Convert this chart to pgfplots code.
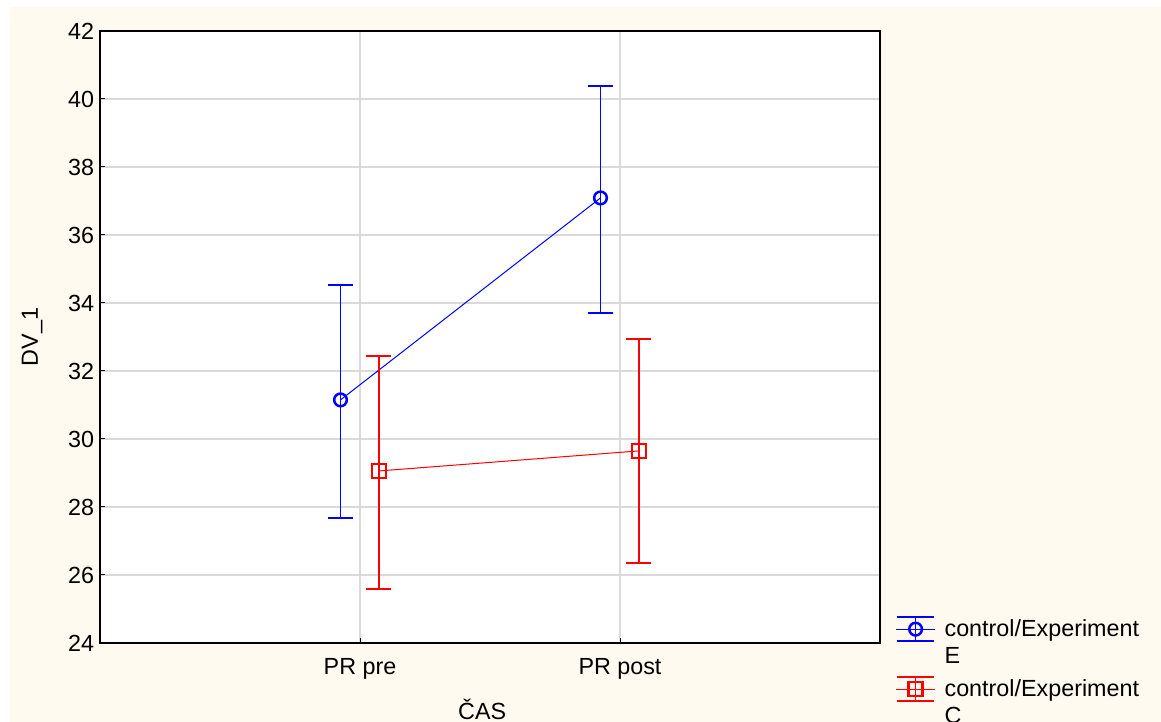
\documentclass[border=0pt]{standalone}
\usepackage{pgfplots}
\pgfplotsset{compat=1.18}
\usepackage{pgfplotstable}
\usepackage{fontspec}
\setmainfont{Liberation Sans}
\definecolor{bg}{RGB}{255,250,240}
\definecolor{gridc}{RGB}{218,218,218}
\definecolor{eblue}{RGB}{0,0,255}
\definecolor{ered}{RGB}{255,0,0}

\pgfplotstableread{
x y ep em
0.925 31.15 3.38 3.47
1.925 37.09 3.29 3.38
}\blueE
\pgfplotstableread{
x y ep em
1.073 29.06 3.38 3.47
2.073 29.65 3.29 3.30
}\redC

\begin{document}
\begin{tikzpicture}
\fill[white] (0,0) rectangle (696.6pt,433.2pt);
\fill[bg] (6pt,0) rectangle (696.6pt,429pt);
\begin{axis}[
  at={(60pt,47.4pt)}, anchor=south west,
  scale only axis, width=468pt, height=367.2pt,
  xmin=0, xmax=3, ymin=24, ymax=42,
  xtick={1,2}, xticklabels={PR pre, PR post},
  ytick={24,26,...,42},
  tick pos=left, tick align=inside, major tick length=3pt,
  every tick/.style={black, line width=0.6pt},
  axis line style={black, line width=0.7pt},
  axis background/.style={fill=white},
  grid=major, major grid style={gridc, line width=0.7pt},
  tick label style={font=\fontsize{14}{16}\selectfont},
  xticklabel style={yshift=-6pt},
  /pgf/number format/assume math mode=true,
  label style={font=\fontsize{14}{16}\selectfont},
  xlabel={ČAS}, ylabel={DV\_1},
  xlabel style={at={(axis description cs:0.49,-0.108)}, anchor=center},
  ylabel style={at={(axis description cs:-0.087,0.5)}, anchor=center},
  legend style={at={(axis description cs:1.02,0.044)}, anchor=north west,
    draw=none, fill=none, inner sep=0pt, row sep=4pt, column sep=3.6pt,
    font=\fontsize{14}{16.2}\selectfont,
    cells={anchor=base west, align=left}},
  legend image code/.code={
    \draw[#1, mark repeat=2, mark phase=2, yshift=20.8pt] plot coordinates {(0pt,0pt) (11.5pt,0pt) (23pt,0pt)};
    \draw[#1, mark=none, line width=0.9pt, yshift=20.8pt] (11.5pt,-7.2pt) -- (11.5pt,7.2pt) (0.5pt,7.2pt) -- (22.5pt,7.2pt) (0.5pt,-7.2pt) -- (22.5pt,-7.2pt);
  },
]
\addplot[eblue, line width=0.6pt, mark=o, mark size=3.8pt,
  mark options={solid, line width=1.5pt},
  error bars/.cd, y dir=both, y explicit,
  error mark options={eblue, line width=0.9pt, mark size=7.5pt, rotate=90},
  error bar style={eblue, line width=0.9pt}]
  table[x=x, y=y, y error plus=ep, y error minus=em] {\blueE};
\addlegendentry{control/Experiment\\E}
\addplot[ered, line width=0.6pt, mark=square, mark size=4.2pt,
  mark options={solid, line width=1.5pt},
  error bars/.cd, y dir=both, y explicit,
  error mark options={ered, line width=0.9pt, mark size=7.5pt, rotate=90},
  error bar style={ered, line width=0.9pt}]
  table[x=x, y=y, y error plus=ep, y error minus=em] {\redC};
\addlegendentry{control/Experiment\\C}
\end{axis}
\pgfresetboundingbox
\path (0,0) rectangle (696.6pt,433.2pt);
\end{tikzpicture}
\end{document}
